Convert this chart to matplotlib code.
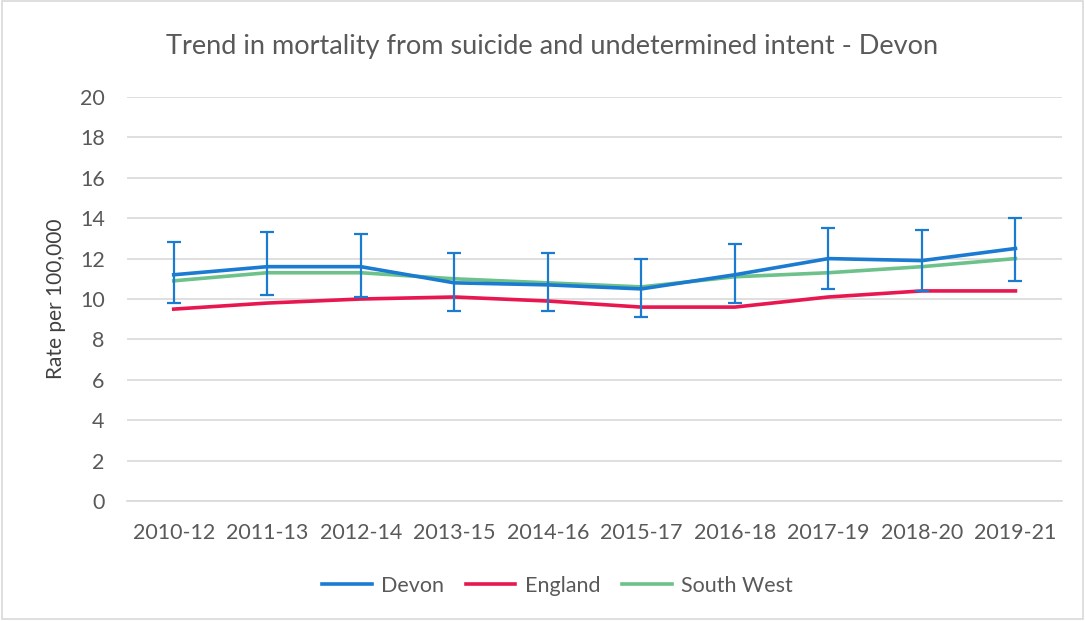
import numpy as np
import matplotlib
matplotlib.use('Agg')
import matplotlib.pyplot as plt
from matplotlib.patches import Rectangle

periods = ['2010-12', '2011-13', '2012-14', '2013-15', '2014-16',
           '2015-17', '2016-18', '2017-19', '2018-20', '2019-21']
devon = [11.2, 11.6, 11.6, 10.8, 10.7, 10.5, 11.2, 12.0, 11.9, 12.5]
devon_low = [9.8, 10.2, 10.1, 9.4, 9.4, 9.1, 9.8, 10.5, 10.4, 10.9]
devon_high = [12.8, 13.3, 13.2, 12.3, 12.3, 12.0, 12.7, 13.5, 13.4, 14.0]
england = [9.5, 9.8, 10.0, 10.1, 9.9, 9.6, 9.6, 10.1, 10.4, 10.4]
south_west = [10.9, 11.3, 11.3, 11.0, 10.8, 10.6, 11.1, 11.3, 11.6, 12.0]

plt.rcParams['font.family'] = ['Lato', 'DejaVu Sans']
text_col = '#595959'

fig = plt.figure(figsize=(10.85, 6.21), dpi=100)
ax = fig.add_axes([0.117, 0.193, 0.862, 0.651])

x = np.arange(len(periods))
yerr = [np.array(devon) - np.array(devon_low), np.array(devon_high) - np.array(devon)]

ax.plot(x, devon, color='#1A7BD0', lw=2.6, label='Devon', zorder=4)
ax.errorbar(x, devon, yerr=yerr, fmt='none', ecolor='#1A7BD0', elinewidth=1.6,
            capsize=5, capthick=1.6, zorder=5)
ax.plot(x, england, color='#E8174F', lw=2.6, label='England', zorder=3)
ax.plot(x, south_west, color='#6CC28A', lw=2.6, label='South West', zorder=3)

ax.set_xlim(-0.5, len(periods) - 0.5)
ax.set_ylim(0, 20)
ax.set_yticks(range(0, 21, 2))
ax.set_xticks(x)
ax.set_xticklabels(periods)
ax.grid(axis='y', color='#D9D9D9', lw=1.2)
ax.set_axisbelow(True)
for s in ['top', 'right', 'left']:
    ax.spines[s].set_visible(False)
ax.spines['bottom'].set_color('#D9D9D9')
ax.spines['bottom'].set_linewidth(1.2)
ax.tick_params(axis='y', length=0, labelsize=15.5, colors=text_col, pad=16)
ax.tick_params(axis='x', length=0, labelsize=15.5, colors=text_col, pad=16)
ax.set_ylabel('Rate per 100,000', fontsize=15, color='#404040', labelpad=10)

fig.suptitle('Trend in mortality from suicide and undetermined intent - Devon',
             fontsize=19.5, color=text_col, x=0.509, y=0.945)

leg = fig.legend(loc='center', bbox_to_anchor=(0.514, 0.057), ncol=3, frameon=False,
                 fontsize=15.5, handlelength=2.3, columnspacing=1.0, handletextpad=0.45)
for t in leg.get_texts():
    t.set_color(text_col)

fig.patches.append(Rectangle((0.002, 0.004), 0.996, 0.994, transform=fig.transFigure,
                             fill=False, edgecolor='#D9D9D9', lw=1.2))

fig.savefig('out.png', dpi=100)
